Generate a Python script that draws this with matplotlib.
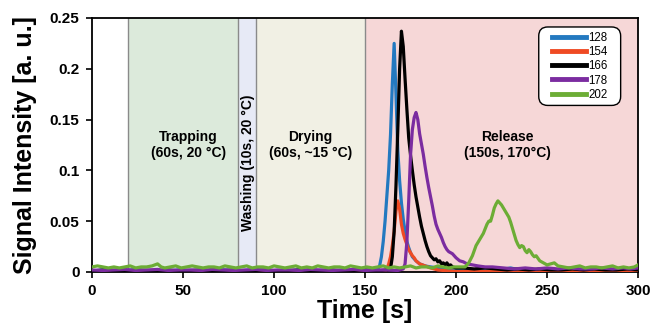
import numpy as np
import matplotlib
matplotlib.use("Agg")
import matplotlib.pyplot as plt
from matplotlib.patches import FancyBboxPatch
from matplotlib.transforms import IdentityTransform

plt.rcParams['font.family'] = ['Liberation Sans', 'DejaVu Sans']

# Phases of the measurement: (start, end, face colour)
phase_names = ['Trapping\n(60s, 20 °C)', 'Washing (10s, 20 °C)',
               'Drying\n(60s, ~15 °C)', 'Release\n(150s, 170°C)']
phase_start = [20, 80, 90, 150]
phase_end = [80, 90, 150, 300]
phase_colors = ['#dceadb', '#e7eaf6', '#f1f0e4', '#f6d7d7']
phase_label_x = [53, 85.7, 120, 228]
phase_label_y = [0.125, 0.108, 0.125, 0.125]

# m/z traces: time [s] and signal [a.u.]
t128 = [0, 6, 12, 18, 24, 30, 36, 42, 48, 54, 60, 66, 72, 78, 84, 90, 96, 102, 108, 114,
        120, 126, 132, 138, 144, 150, 154, 157,
        158, 159, 160, 161, 162, 163, 164, 165, 166, 167, 168, 169, 170, 171, 172, 173, 174,
        175, 176, 178, 180, 183, 186, 190, 195, 200,
        206, 212, 218, 224, 230, 236, 242, 248, 254, 260, 266, 272, 278, 284, 290, 296, 300]
v128 = [0.001, 0.002, 0.001, 0.0015, 0.002, 0.001, 0.0015, 0.001, 0.002, 0.001, 0.0015, 0.001,
        0.002, 0.001, 0.0015, 0.002, 0.001, 0.0015, 0.001, 0.002, 0.001, 0.0015, 0.001, 0.002,
        0.001, 0.0015, 0.002, 0.003,
        0.006, 0.015, 0.03, 0.05, 0.075, 0.10, 0.135, 0.185, 0.225, 0.175, 0.12, 0.09, 0.068,
        0.052, 0.04, 0.03, 0.024, 0.019, 0.015, 0.011, 0.008, 0.006, 0.005, 0.004, 0.003, 0.002,
        0.002, 0.001, 0.0015, 0.002, 0.004, 0.0015, 0.002, 0.001, 0.002, 0.0015, 0.001, 0.002,
        0.001, 0.0015, 0.002, 0.001, 0.0015]

t154 = [0, 6, 12, 18, 24, 30, 36, 42, 48, 54, 60, 66, 72, 78, 84, 90, 96, 102, 108, 114,
        120, 126, 132, 138, 144, 150, 156, 159, 161,
        162, 163, 164, 165, 166, 167, 168, 169, 170, 171, 172, 173, 174, 175, 176, 177, 178,
        180, 183, 186, 190,
        196, 202, 208, 214, 220, 226, 232, 238, 244, 250, 256, 262, 268, 274, 280, 286, 292, 300]
v154 = [0.0005, 0.001, 0.0005, 0.001, 0.0005, 0.001, 0.0005, 0.001, 0.0005, 0.001, 0.0005,
        0.001, 0.0005, 0.001, 0.0005, 0.001, 0.0005, 0.001, 0.0005, 0.001, 0.0005, 0.001,
        0.0005, 0.001, 0.0005, 0.001, 0.0005, 0.001, 0.001,
        0.003, 0.008, 0.015, 0.026, 0.04, 0.06, 0.07, 0.062, 0.047, 0.038, 0.032, 0.027, 0.022,
        0.019, 0.016, 0.014, 0.011, 0.008, 0.006, 0.004, 0.002,
        0.001, 0.0005, 0.001, 0.0005, 0.001, 0.0005, 0.001, 0.0005, 0.001, 0.0005, 0.001,
        0.0005, 0.001, 0.0005, 0.001, 0.0005, 0.001, 0.0005]

t166 = [0, 6, 12, 18, 24, 30, 36, 42, 48, 54, 60, 66, 72, 78, 84, 90, 96, 102, 108, 114,
        120, 126, 132, 138, 144, 150, 156, 162,
        164, 165, 166, 167, 168, 169, 170, 171, 172, 173, 174, 175, 176, 177, 178, 179, 180,
        181, 182, 183, 184, 185, 186, 187, 188, 189, 190, 191, 192, 193, 194, 195, 196, 197,
        198, 200,
        204, 210, 216, 222, 228, 234, 240, 246, 252, 258, 264, 270, 276, 282, 288, 294, 300]
v166 = [0.001, 0.002, 0.0015, 0.001, 0.002, 0.0015, 0.001, 0.002, 0.001, 0.0015, 0.002, 0.001,
        0.0015, 0.002, 0.001, 0.0015, 0.002, 0.001, 0.0015, 0.002, 0.001, 0.0015, 0.002, 0.001,
        0.0015, 0.002, 0.001, 0.002,
        0.003, 0.015, 0.04, 0.085, 0.14, 0.2, 0.237, 0.222, 0.19, 0.16, 0.132, 0.115, 0.1,
        0.086, 0.074, 0.064, 0.054, 0.045, 0.038, 0.031, 0.025, 0.02, 0.016, 0.014, 0.012,
        0.013, 0.010, 0.011, 0.008, 0.009, 0.007, 0.009, 0.006, 0.007, 0.005, 0.004,
        0.004, 0.003, 0.004, 0.003, 0.002, 0.003, 0.002, 0.003, 0.002, 0.002, 0.003, 0.002,
        0.003, 0.002, 0.002, 0.003, 0.002]

t178 = [0, 6, 12, 18, 24, 30, 36, 42, 48, 54, 60, 66, 72, 78, 84, 90, 96, 102, 108, 114,
        120, 126, 132, 138, 144, 150, 156, 162, 168,
        171, 172, 173, 174, 175, 176, 177, 178, 179, 180, 181, 182, 183, 184, 185, 186, 187,
        188, 189, 190, 191, 192, 193, 194, 195, 196, 198, 200, 202, 204, 206, 209, 212, 216, 220,
        226, 232, 238, 244, 250, 256, 262, 268, 274, 280, 286, 292, 296, 300]
v178 = [0.002, 0.0015, 0.002, 0.0025, 0.0015, 0.002, 0.0025, 0.0015, 0.002, 0.002, 0.0015,
        0.0025, 0.002, 0.0015, 0.002, 0.0025, 0.0015, 0.002, 0.002, 0.0015, 0.0025, 0.002,
        0.0015, 0.002, 0.0025, 0.0015, 0.002, 0.002, 0.0015,
        0.003, 0.008, 0.03, 0.07, 0.115, 0.14, 0.152, 0.157, 0.15, 0.136, 0.126, 0.116, 0.104,
        0.093, 0.083, 0.074, 0.065, 0.055, 0.047, 0.042, 0.038, 0.034, 0.029, 0.025, 0.022,
        0.020, 0.018, 0.014, 0.011, 0.010, 0.008, 0.007, 0.006, 0.005, 0.005,
        0.004, 0.003, 0.004, 0.003, 0.004, 0.003, 0.004, 0.003, 0.003, 0.004, 0.003, 0.004,
        0.003, 0.004]

t202 = [0, 3, 6, 9, 12, 15, 18, 21, 24, 27, 30, 33, 36, 38, 40, 43, 46, 49, 52, 55,
        58, 61, 64, 67, 70, 73, 76, 79, 82, 85, 88, 91, 94, 97, 100, 103, 106, 109, 112, 115,
        118, 121, 124, 127, 130, 133, 136, 139, 142, 145, 148, 151, 154, 157, 160, 163, 166,
        169, 172, 175, 178, 181, 184, 187, 190, 193, 196, 199, 202,
        205, 207, 209, 211, 213, 215, 217, 218, 219, 220, 221, 222, 223, 224, 225, 226, 227,
        228, 229, 230, 231, 232, 233, 234, 235, 236, 237, 238, 239, 240, 241, 242, 243, 244,
        246, 248, 250, 252, 254, 256,
        259, 262, 265, 268, 271, 274, 277, 280, 283, 286, 289, 292, 295, 298, 300]
v202 = [0.005, 0.006, 0.005, 0.004, 0.005, 0.004, 0.005, 0.006, 0.004, 0.005, 0.005, 0.006,
        0.008, 0.005, 0.004, 0.005, 0.006, 0.004, 0.005, 0.006, 0.005, 0.004, 0.005, 0.005,
        0.004, 0.006, 0.005, 0.004, 0.005, 0.006, 0.004, 0.005, 0.005, 0.004, 0.006, 0.005,
        0.004, 0.005, 0.006, 0.004, 0.005, 0.004, 0.006, 0.005, 0.004, 0.005, 0.005, 0.004,
        0.006, 0.005, 0.004, 0.005, 0.004, 0.005, 0.006, 0.004, 0.005, 0.004, 0.005, 0.006,
        0.004, 0.005, 0.005, 0.004, 0.006, 0.005, 0.004, 0.005, 0.005,
        0.005, 0.009, 0.016, 0.026, 0.032, 0.038, 0.047, 0.050, 0.050, 0.056, 0.063, 0.067,
        0.070, 0.068, 0.066, 0.063, 0.060, 0.057, 0.054, 0.049, 0.043, 0.037, 0.031, 0.027,
        0.024, 0.026, 0.025, 0.021, 0.019, 0.022, 0.020, 0.017, 0.015, 0.016,
        0.011, 0.009, 0.007, 0.008, 0.009, 0.006,
        0.005, 0.004, 0.005, 0.006, 0.004, 0.005, 0.005, 0.004, 0.005, 0.006, 0.004, 0.005,
        0.004, 0.005, 0.007]

series_t = [t128, t154, t166, t178, t202]
series_v = [v128, v154, v166, v178, v202]
series_labels = ['128', '154', '166', '178', '202']
series_colors = ['#2379c0', '#ef4a23', '#000000', '#7b2ca0', '#6cad35']

xticks = [0, 50, 100, 150, 200, 250, 300]
yticks = [0, 0.05, 0.1, 0.15, 0.2, 0.25]
ytick_labels = ['0', '0.05', '0.1', '0.15', '0.2', '0.25']

fig = plt.figure(figsize=(6.54, 3.27), dpi=100)
ax = fig.add_axes([0.1407, 0.1682, 0.8349, 0.7768])

# shaded phases
for s, e, c in zip(phase_start, phase_end, phase_colors):
    ax.axvspan(s, e, color=c, lw=0, zorder=0)
for s in phase_start:
    ax.axvline(s, color='#8a8a8a', lw=1.0, zorder=1)

for i, name in enumerate(phase_names):
    rot = 90 if name.startswith('Washing') else 0
    ax.text(phase_label_x[i], phase_label_y[i], name, ha='center', va='center',
            rotation=rot, fontsize=10, fontweight='bold', linespacing=1.1, zorder=2)

for t, v, lab, col in zip(series_t, series_v, series_labels, series_colors):
    ax.plot(t, v, color=col, lw=2.3, label=lab, zorder=3)

ax.set_xlim(0, 300)
ax.set_ylim(0, 0.25)
ax.set_xticks(xticks)
ax.set_yticks(yticks)
ax.set_yticklabels(ytick_labels)
ax.tick_params(direction='out', length=4, width=1.2, pad=5, labelsize=11)
for lbl in ax.get_xticklabels() + ax.get_yticklabels():
    lbl.set_fontweight('bold')
for sp in ax.spines.values():
    sp.set_linewidth(1.3)

ax.set_xlabel('Time [s]', fontsize=18, fontweight='bold')
ax.set_ylabel('Signal Intensity [a. u.]', fontsize=18, fontweight='bold')
ax.xaxis.set_label_coords(0.5, -0.105)
ax.yaxis.set_label_coords(-0.1, 0.5)

leg = ax.legend(loc='upper right', bbox_to_anchor=(0.9535, 0.9646), borderaxespad=0,
                fontsize=8.3, handlelength=2.9, labelspacing=0.2, handletextpad=0.25,
                borderpad=0.4, frameon=False)
leg.set_zorder(6)
for line in leg.get_lines():
    line.set_linewidth(3.5)

# rounded legend box, a bit wider than the legend content
fig.canvas.draw()
bb = leg.get_window_extent()
box = FancyBboxPatch((bb.x0 - 9, bb.y0), bb.width + 17, bb.height,
                     boxstyle='round,pad=0,rounding_size=9', transform=IdentityTransform(),
                     facecolor='white', edgecolor='black', lw=1.0, zorder=5, clip_on=False)
ax.add_patch(box)

fig.savefig('out.png', dpi=100)
